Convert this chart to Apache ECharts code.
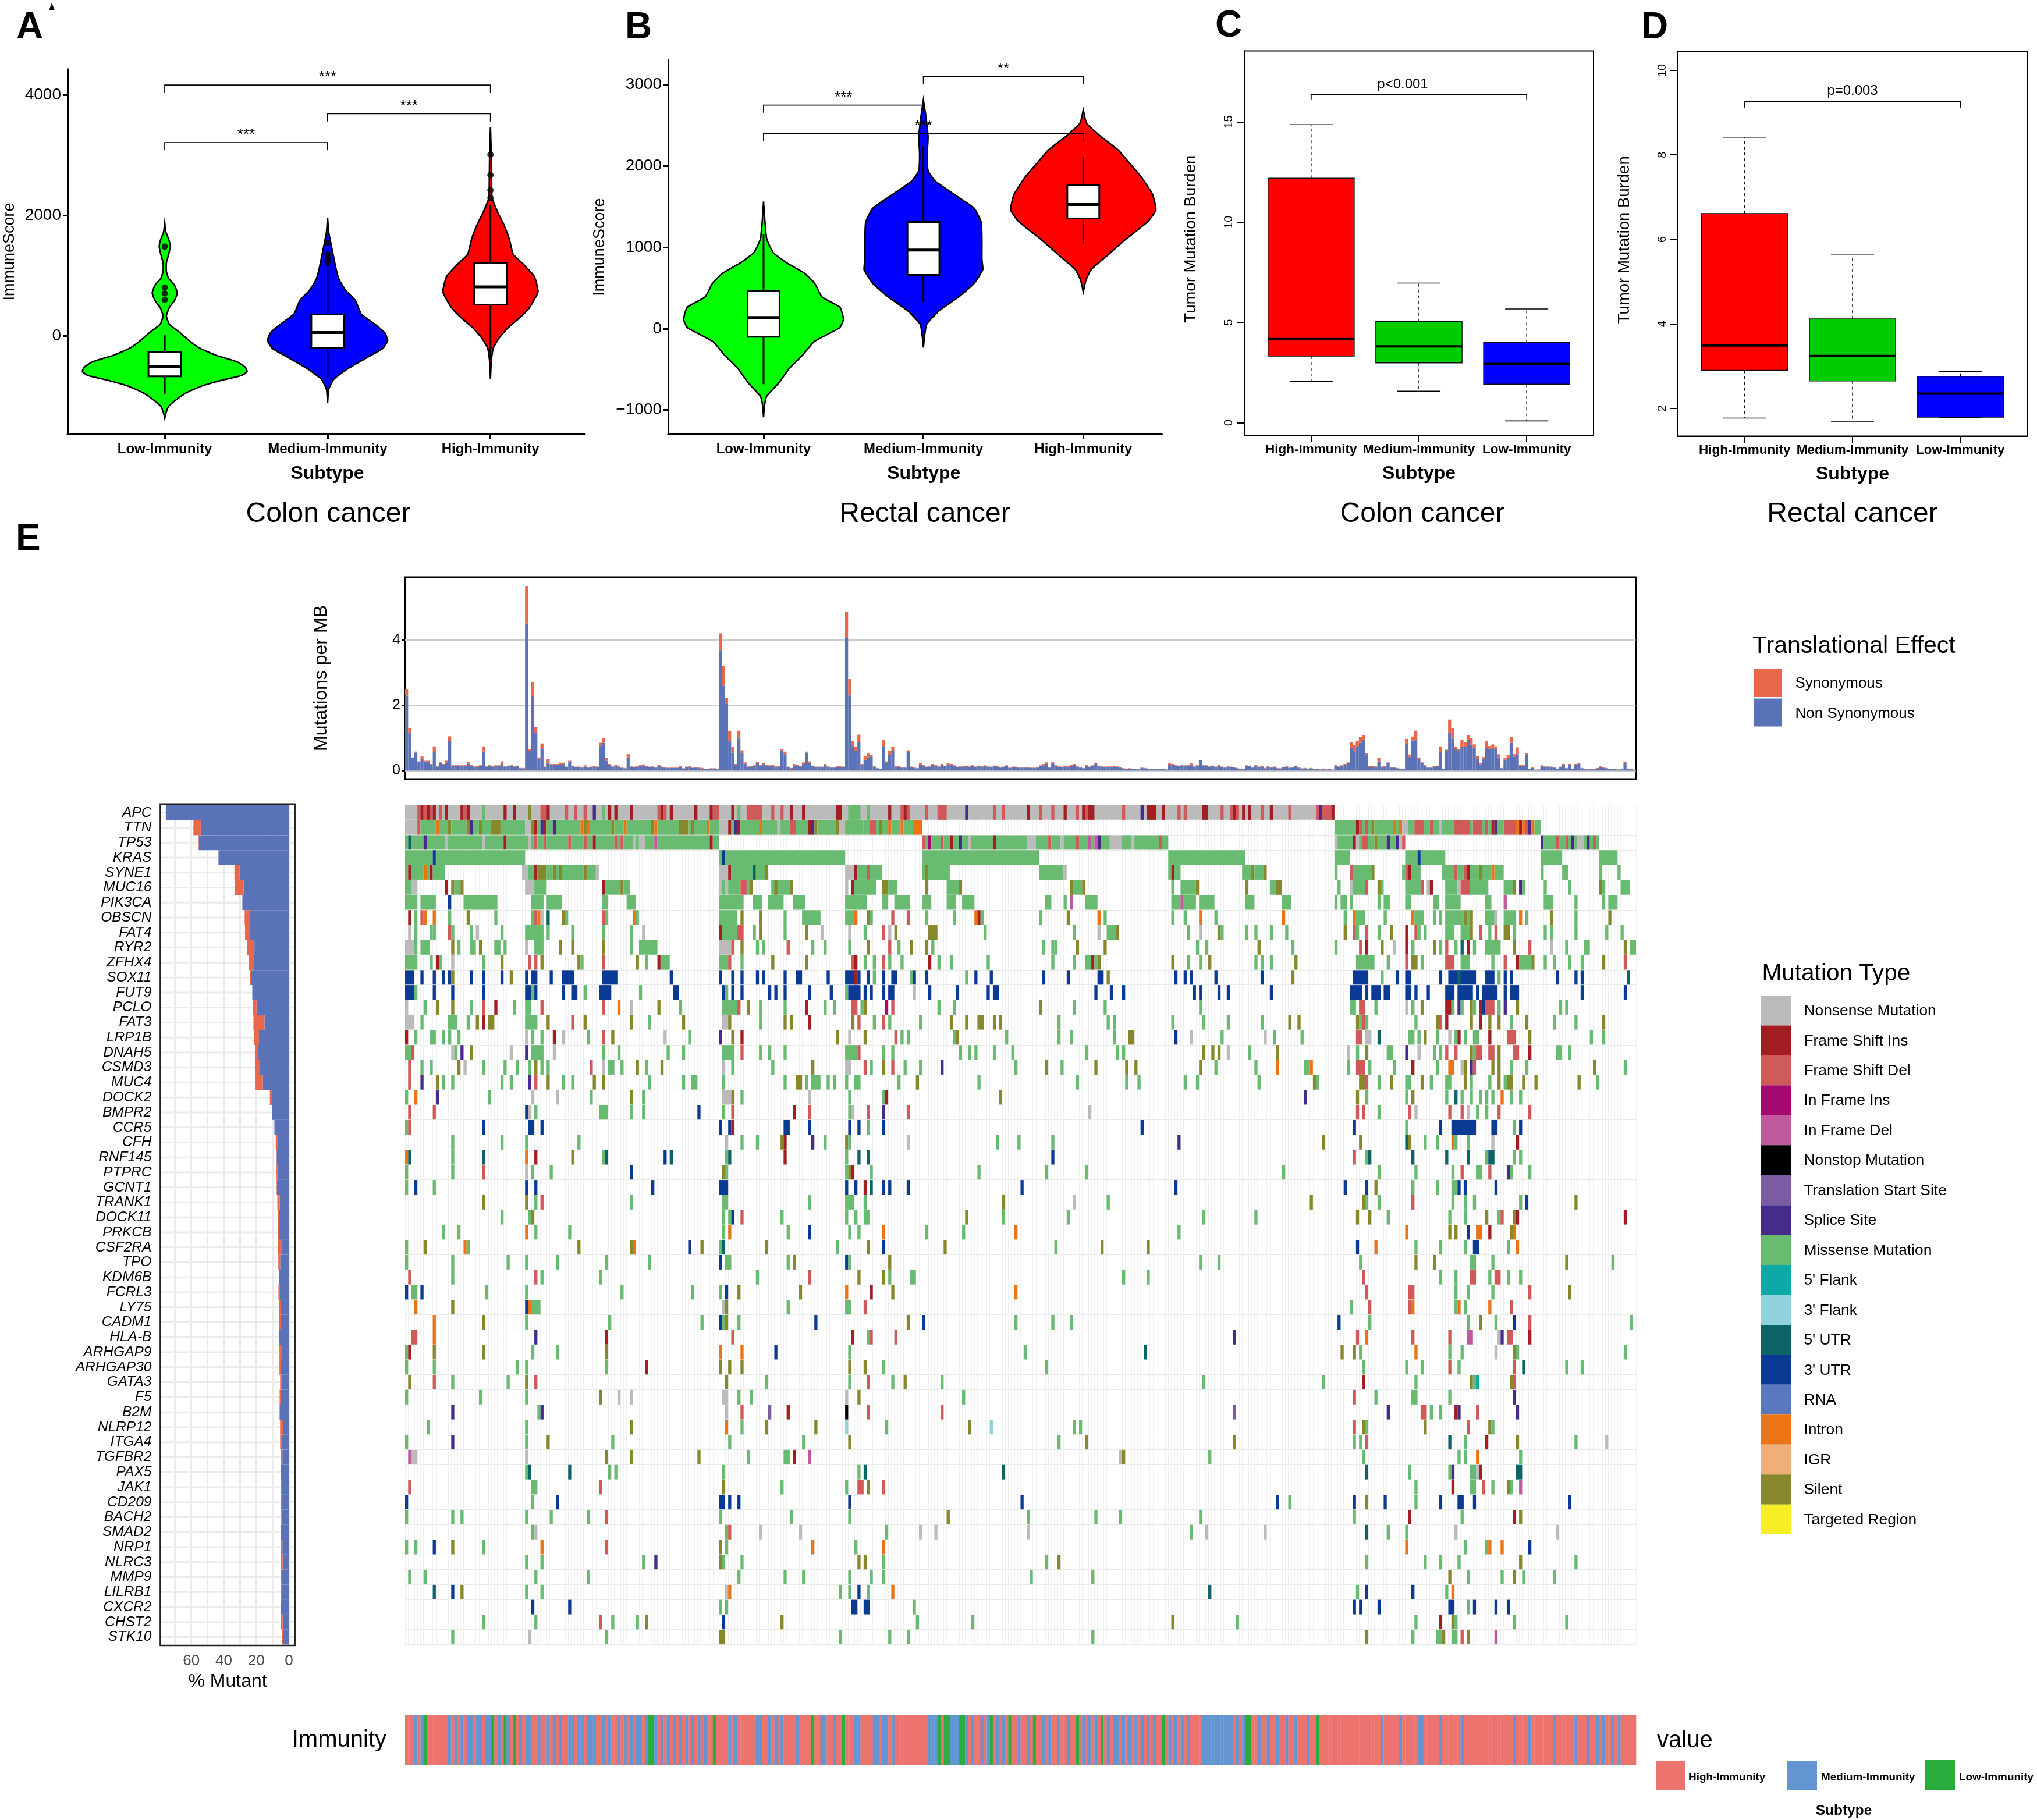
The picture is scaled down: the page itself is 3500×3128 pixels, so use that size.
<!DOCTYPE html>
<html><head><meta charset="utf-8"><style>html,body{margin:0;background:#fff}#c{width:3500px;height:3128px}</style>
<script src="https://cdn.jsdelivr.net/npm/echarts@6/dist/echarts.min.js"></script></head>
<body><div id="c"></div><script>
const FONT='"Liberation Sans",Arial,sans-serif';
// ---------- panels A / B : violins
const violinCats=['Low-Immunity','Medium-Immunity','High-Immunity'];
const violinColors=['#00FF00','#0000FF','#FF0000'];
const colonViolinValue=[
 [1881,1722,1609,1484,1354,1212,1071,957,844,714,589,476,334,193,51,-91,-204,-317,-431,-516,-589,-657,-742,-827,-941,-1054,-1167,-1280,-1365],
 [1960,1722,1552,1326,1099,929,759,589,363,193,51,-79,-204,-374,-544,-714,-884,-1110],
 [3467,3025,2629,2289,2062,1836,1609,1354,1184,986,731,476,306,136,-34,-204,-431,-714]];
const colonViolinHalf=[
 [0,.007,.024,.034,.024,.01,.01,.024,.06,.077,.06,.029,.01,.029,.096,.157,.217,.313,.446,.494,.506,.47,.337,.229,.133,.072,.024,.007,0],
 [0,.007,.019,.036,.053,.072,.111,.171,.207,.292,.352,.369,.34,.231,.123,.039,.007,0],
 [0,.005,.007,.01,.043,.084,.116,.14,.205,.27,.292,.241,.181,.108,.053,.017,.005,0]];
const colonBoxes=[[-969,-669,-504,-261,23],[-686,-198,57,357,1354],[-400,521,816,1212,2176]];
const colonOutliers=[[1,1484],[1,805],[1,708],[1,600],[2,1541],[2,1354],[2,1297],[2,1229],[3,3008],[3,2669],[3,2419],[3,2289]];
const colonBrackets=[[1,3,4164,4034,'***'],[2,3,3688,3558,'***'],[1,2,3207,3082,'***']];
const rectalViolinValue=[
 [1565,1355,1103,935,809,683,557,389,263,116,11,-158,-326,-494,-662,-830,-956,-1090],
 [2813,2616,2363,2153,1943,1817,1649,1481,1313,1103,851,725,557,389,221,53,-95,-233],
 [2691,2531,2363,2195,2027,1859,1649,1460,1313,1103,893,725,599,452]];
const rectalViolinHalf=[
 [0,.007,.02,.061,.146,.256,.32,.366,.478,.5,.476,.317,.244,.159,.098,.02,.005,0],
 [0,.015,.029,.024,.029,.073,.195,.317,.361,.366,.366,.371,.317,.22,.098,.02,.007,0],
 [0,.02,.11,.22,.293,.366,.434,.454,.402,.268,.146,.049,.017,0]];
const rectalBoxes=[[-683,-99,137,460,1166],[326,662,968,1313,2247],[1036,1355,1527,1763,2111]];
const rectalBrackets=[[2,3,3103,3010,'**'],[1,2,2750,2657,'***'],[1,3,2397,2304,'***']];
// ---------- panels C / D : TMB boxes
const tmbCats=['High-Immunity','Medium-Immunity','Low-Immunity'];
const tmbColors=['#FF0000','#00CD00','#0000FF'];
const colonTmb=[[2.06,3.32,4.17,12.19,14.86],[1.57,2.98,3.81,5.04,6.96],[0.09,1.92,2.93,4.0,5.67]];
const rectalTmb=[[1.77,2.90,3.49,6.61,8.42],[1.68,2.65,3.24,4.12,5.63],[1.79,1.79,2.35,2.76,2.87]];
const colonTmbBracket=[[1,3,16.35,16.09,'p<0.001']];
const rectalTmbBracket=[[1,3,9.26,9.12,'p=0.003']];
// ---------- panel E
const genes=['APC','TTN','TP53','KRAS','SYNE1','MUC16','PIK3CA','OBSCN','FAT4','RYR2','ZFHX4','SOX11','FUT9','PCLO','FAT3','LRP1B','DNAH5','CSMD3','MUC4','DOCK2','BMPR2','CCR5','CFH','RNF145','PTPRC','GCNT1','TRANK1','DOCK11','PRKCB','CSF2RA','TPO','KDM6B','FCRL3','LY75','CADM1','HLA-B','ARHGAP9','ARHGAP30','GATA3','F5','B2M','NLRP12','ITGA4','TGFBR2','PAX5','JAK1','CD209','BACH2','SMAD2','NRP1','NLRC3','MMP9','LILRB1','CXCR2','CHST2','STK10'];
const pctTotal=[75.7,58.7,55.7,43.3,33.5,33.1,28.6,27.2,27,25.6,24.8,24,22.5,22.2,21.8,21.4,20.9,20.9,20.5,11.7,10.3,8.9,8.1,7.6,7.6,7.6,7.1,6.9,6.9,6.8,6.5,6.2,6.4,6.2,6.2,5.9,5.8,5.8,5.4,5.7,5.7,5.4,5.4,5.1,5.1,5.1,5,5,5,5,4.8,4.8,4.8,4.8,4.8,4.4];
const pctNonSyn=[75.5,54.2,55.4,43.3,30.4,27.9,28.6,23.8,23.8,21.2,21.5,23.1,22.5,19.9,15,18.4,19.1,17.7,16,10.5,10.3,8.9,6.8,7.5,7.2,7.4,5.7,6.1,6.1,4.7,5.4,6.2,5.5,5.1,5.1,5.9,4.2,5,4.1,4.8,5.7,3.7,4.1,4,5.1,4.2,4.7,4.5,5,4,3.8,4.2,4.7,4.8,3.8,3.4];
const pctTicks=[0,20,40,60];
const pctGrid=[0,10,20,30,40,50,60,70];
const tmbTotalHundredths=[
250,130,40,58,28,43,30,30,20,74,15,25,20,30,105,16,18,18,16,18,27,17,14,13,18,74,14,18,13,16,
16,28,14,15,18,14,15,8,8,563,65,270,133,40,83,12,35,20,20,20,24,24,12,30,15,12,12,10,16,10,
12,14,12,85,100,38,20,14,18,15,9,8,50,14,12,14,17,19,14,12,14,11,18,12,10,9,9,9,9,14,
7,12,14,9,10,10,8,5,5,7,7,6,420,320,222,122,73,20,122,62,25,14,13,16,27,18,24,18,16,18,
15,13,65,58,12,8,20,18,13,25,58,28,15,12,12,12,20,14,10,10,14,14,12,485,280,90,72,110,20,43,
52,47,15,8,5,93,28,60,72,15,13,11,10,62,12,10,8,22,18,12,15,20,18,14,20,15,22,20,16,12,
14,13,15,14,16,12,15,13,16,14,12,15,13,10,12,16,9,12,12,11,11,11,10,9,9,10,16,20,25,10,
25,18,14,12,13,13,17,20,14,11,8,17,12,16,24,15,14,12,14,14,13,14,10,7,6,7,6,5,5,9,
8,6,5,6,5,5,6,4,22,20,17,15,18,16,18,22,14,16,32,18,16,14,15,12,17,12,10,14,12,11,
8,5,5,16,15,10,17,12,13,8,14,10,12,8,7,11,14,9,10,15,10,7,8,6,8,5,6,4,6,4,
5,3,18,14,16,20,25,86,79,90,103,109,54,13,13,14,39,12,13,25,10,10,8,6,6,97,49,104,122,40,
25,17,10,10,13,15,74,5,64,156,130,73,65,95,86,109,100,80,45,22,41,91,75,80,74,50,8,38,47,103,
50,71,18,18,53,5,10,3,4,16,14,14,12,10,6,12,20,8,20,6,20,22,8,5,4,5,5,8,14,10,
8,6,5,5,4,5,26,6,5,3];
const tmbNonSynHundredths=[
230,115,38,55,26,36,28,27,18,56,12,22,18,25,90,14,16,15,14,15,21,15,12,10,15,58,12,16,11,14,
13,20,12,13,15,12,13,7,7,450,60,228,115,35,65,10,24,17,18,18,18,20,10,28,13,10,10,9,12,9,
10,11,11,75,85,30,17,12,15,12,8,7,40,12,10,11,15,16,11,10,12,9,14,10,9,8,8,8,8,11,
6,10,11,8,9,8,6,4,4,6,6,5,367,260,205,90,55,17,98,52,20,12,11,13,22,15,20,15,14,15,
12,11,60,50,10,6,16,15,11,20,55,22,13,10,10,10,17,12,9,9,11,12,10,405,230,75,60,87,17,33,
40,43,12,7,4,75,22,47,60,12,11,9,9,57,10,8,7,18,15,10,12,17,15,12,17,13,18,17,14,10,
12,11,13,12,14,10,13,11,14,12,10,13,11,9,10,14,8,10,10,9,9,9,9,8,8,9,13,16,20,9,
23,15,12,10,11,11,14,17,12,9,7,15,10,14,20,13,12,10,12,12,11,12,9,6,5,6,5,4,4,8,
7,5,4,5,4,4,5,3,18,18,15,13,16,14,15,19,12,14,31,16,14,12,13,10,15,10,9,12,10,9,
7,4,4,14,13,9,15,10,11,7,12,9,10,7,6,10,12,8,9,13,9,6,7,5,7,4,5,3,5,3,
4,2,16,12,14,18,22,70,56,75,85,95,50,11,11,12,28,10,11,22,9,9,7,5,5,82,42,92,93,36,
22,15,9,9,11,13,56,4,60,115,97,65,60,73,73,95,80,70,35,19,35,70,65,68,65,40,7,33,38,85,
42,50,15,15,47,4,8,2,3,14,12,12,10,9,5,10,17,7,18,5,18,20,7,4,3,4,4,6,12,8,
7,5,4,4,3,4,22,5,4,2];
const mutTypes=['Nonsense Mutation','Frame Shift Ins','Frame Shift Del','In Frame Ins','In Frame Del','Nonstop Mutation','Translation Start Site','Splice Site','Missense Mutation',"5' Flank","3' Flank","5' UTR","3' UTR",'RNA','Intron','IGR','Silent','Targeted Region'];
const mutColors=['#BBBBBB','#A31E23','#CF5A59','#A3096F','#C0589C','#000000','#7B5CA3','#472B8B','#6ABB72','#0EA8A6','#8FD1DC','#0D6466','#0B3A94','#5A78BE','#EB7416','#F0AE78','#87872B','#F7EE25'];
const mutCodes='nidpqxtsmfgurboeky';
const geneCells=[
/*APC*/"n0-301 d4 i5 d6 i7 d8 i9 d11 i13 i18 d19 i20 m25 i32 i35 k40 d44-45 i46 d52 d55 d58 s61 m64 i66 i68 i73 d82 i83 d84 i86 i94 i99 d100 d101 i106 m108 d111-115 d119 d122 i125 i129 i140-141 m144-147 m150 i157 d161 i162 d163 d169 d173-175 s182 d191 d194 i202 d206 d210 i214 d218 i220 d221 i222-223 d233 s239 i241-243 i246 d251 d253 i259-260 d265 d268 i269 d270 i272 i274 d278 i281 d287 d296 s297 d298-300 i301",
/*TTN*/"n0-3 d4 m5-9 o10 m11-13 k14 m15-19 k20 s21 m22-23 k24 m25-27 k28-30 m31-38 n39-40 k41 i42 m43 s44 i45 m46-47 s48 m49-56 o57 k58 o59 m60-66 k67 m68-70 o71 m72-79 k80 o81 m82-88 k89-91 m92 k93 m94-97 o98 m99-101 n102-104 i105 m106 s107 i108 m109-114 o115 m116-120 n121 m122-124 d125-126 m127-130 i131 s132 k133 m134-139 k140 n141-142 m143-148 m149-150 d151-152 m153 k154 m155-156 o157 m158-160 o161 m162-164 o165-167 m302-308 i309 d310 m311 d312 m313 k314 m315-320 o321 m322 o323 n324-325 m326-327 d328-330 m331-332 d333 m334-335 n336 m337-340 d341-345 m346 d347-349 m350 d351 m352 i353 s354 m355-356 d357-360 o361 i362 o363 d364 s365 o366 m367-368",
/*TP53*/"m0 u1 m2-5 s6 m7-12 n13 m14-24 n25 m26-31 i32 m33-39 n40 m41 d42 m43-44 d45 m46-52 d53 m54-57 d58 m59-60 i61 m62-67 d68 m69 d70 m71-73 n74 m75 n76-77 m78-80 q81 m82-98 i99 m100-101 d168 m169 p170 m171-173 d174 m175-176 i177 m178-179 s180 m181-182 n183 m184-190 i191 m192-201 n202-204 m205-208 d209 m210-212 n213 m214-217 d218 m219-221 q222 m223 q224 s225 m226-228 n229-232 m233-235 n236 m237-244 d245 m246-247 n302 m303-307 i308 n309 m310 d311-312 m313-314 k315 m316-318 s319 m320-321 s322 n323 d324 s369 m370-373 d374 m375-376 d377 m378 s379 m380 n381-382 m383 s384 m385 d386 m387",
/*KRAS*/"m0-8 r9 m10-38 m102 r103 m104-142 m168-205 m248-272 m302-306 m325-328 r329 m330-337 m369-375 m388-393",
/*SYNE1*/"m0 i1 m2-5 o6 m7 i8 m9-12 n38-39 m40-41 i42 k43-45 m46-47 k48 m49 k50 m51-57 k58 m59-61 n62 n102-104 i105 m106-112 u113 m114-116 k117 n143-145 i146 m147-149 d150 m151-154 m168 k169 m170-176 m206-213 n214 m248 i249 m250-251 m272-274 k275 m276-278 k279 m302 d307 m308-313 k314 m324 d325 i326 m327-329 m337-340 d341 m342-343 d344 i345 m346-348 k349 m350-352 o353 m354-356 m369 m376-377 m388 m394",
/*MUC16*/"m0-1 n2-3 i13 k15 m16-17 k18 n39-41 m42-45 i64 m65-69 k70 m71-72 n102 m103 n104 m105-108 d109-110 m111 k112 m119-124 k120 k125 n143 i145 m146-152 k155 k156 m157-159 k169 n178 m176-179 k180 m216-219 k216 k220 m249 m252-256 k257 k273 m281-284 k283-284 m303 n307 m308-311 d312 k316 m317 m325-329 d330 n332 i333 m338-341 n342 d343-345 m346-351 m357-359 k360 s362 m363 m370 m378 k388 m389 m395-397",
/*PIK3CA*/"m0-3 m5-9 r14 m19-29 m41-44 m46-50 m64-65 m72-74 m102-109 m113-115 m118-122 m126-129 m143-149 m155-156 m159-163 m168-170 m176-178 m181-184 m208-209 m214 q216 m221-224 m249-251 q252 m253-256 m258-262 m273-275 m285-287 m302 m304-305 m307 m316 m318-319 m325-326 m334-335 m338-342 m351-352 q357 m370-372 m380 m389 m391-393",
/*OBSCN*/"i1 m3 d5 o6 o9 m14 k20 m29 m41 d42 o43 n44 u46 k51 m52 d64 m65 o74 m75 m102-107 k109 k115 m123 m129-134 m143-145 o146 k150 m151 d158 d163 m169 m178 o185 i186 m187 m206 k215 o225 m227 m249 m253 o258 m263 o285 m305 o308 m309-311 m318 o327 m328-330 m334 m336 m338-343 k344 m345 k346 m351-353 n354 m357-360 o362 m364 k372 m380 k391",
/*FAT4*/"n1 m3 m8 m9 d14 m15 m21 n23 m31 m39-44 m46 m54 m64 m73 n77 i102 m103-107 d108-109 m113 k115 m123 k130 n135 n144 m149 d155 n157 k159 k170-172 m188 m217 n225 m228-230 k231 m254 n258 k264 m265 m273 m276 m281 m286 k305 d308 m309 d312 m316 k320 i325 d328 m329 m331 m338-340 m343-345 k346 d349 m352 d354 k357-358 m360 m370 m372 m380 m390 m395",
/*RYR2*/"n0-2 m3 m5-7 k15 m17 m21-22 k24 m29-30 m32 n39 m42-44 k50 k54 k64 m73 m76-81 n102-105 d106 k109 m114 m116 d124 m132 m136 m144 k150 d157 m160 k164 k169 m171 m207 m211 k218 m210 k227 m257 m260 k277 m288 m302 d310 i312 k317 n321 i325 m327 k334 m336 d338 m341 u343 i345 m347 m351-355 k360 d365 n372 m377 m383-384 k396 m398-399",
/*ZFHX4*/"m0-3 m8 i10 m11 n15 m25 k31 d40 d42 k44 k56 m57 d64 k75 m78 i82 m83-85 m102-104 d105 m109 k119 k130 d145 i146 m149 m152 d155 m157 m161 i170 m173 m177 m189 m210 m217 m221-222 i223 m224 k225 k249 m254 m258 k261 m276 m278 m281 k289 m309-310 m311-314 m319 d325 k327-328 m330 d338-340 m343-345 m353 d357 i361 m362-365 k366 m370 m373 m378 m382 k389 d396",
/*SOX11*/"r0-2 r5 r9 r12 r14 k15 r21 r25 r31 k34 r39 r41-42 r47 r51-54 r64-68 r86 r102 r106 r109 r114 r116 r123 r127-128 r137 r143-146 i146 r147 r150 m152 r155 r158-159 m164 r165 r169 m182 r185 r190 r207 r215 r225-226 k228 r250 r253 r255 r263 r278 k288 r308-312 m317 r322 r325-326 r336 r339-347 u342 r351-353 m355 r357 r359 r374 r380 r382 u397",
/*FUT9*/"r0-2 m3 r9 r15 r25 r39-40 m41 r42 r51 r54-55 m58 r63-66 m76 r87-88 r103 m104 r106 r109 r118 r120 r123 r131 r138 m143 r144-147 r149 r151 r155 r157-158 n165 r170 r179 r189 r191-192 r224 r229 r233 r256 r258 r264 r267 r281 r307-310 r312 r314-316 r318-319 r325-326 r328 r332 r338-340 r342-346 r348 r350-354 r357 r359-361 r382 r396",
/*PCLO*/"n0 m6 k10 k15 m21 d25 i29 m35 m39-40 d44 d64 o69 n73 k82 m89 m103-107 d108 k111 m115 m123 i130 m136 m139 d145-146 m148 k149 p156 d158 m173 m178 k206 m217 m227 m258 m307-308 d310-311 m315 n325 m327 k330 i338-339 m340 s342 m343 k346 m347 i349 r350 d351-353 m355 s357 k361 m375 m377",
/*FAT3*/"n0-2 m5 m14-16 m20 k23 i25 k27-28 m39-42 k46 d54 k58 k73 m79 k90 n103-104 k105 m115 k123 k125 i131 k145 d147 m152 d155 m157 m167 k177 k182 k186-187 k191 k193 m212 m228 m230 m249 m259 m267 m278 k287 k290 k309 m310-312 d311 m328 k335 d336 i338 k346 i349 k352 k355 m359 k364 m373 m380 k389",
/*LRP1B*/"i0 m3 m8-9 m12 m14 m17 n39 m41 m44 i48 n51 m59 d64 k67 n84 m92 s102 k106 i109 k140 n144 k149 d159 m161 m163 m178 k179 m195 m212 m216 m230 k235-236 r250 n255 m265 n279 m282 m291 d309-310 n312-313 u316 m326-327 m329 k331 m335 n339 m341 i342 m344 m347-348 i352 d358-360 k365 m385 m389",
/*DNAH5*/"m0-1 d2 n15 m16 s18 k21 n34 s39 m41-44 n48 m64 m69 m85 m90 m103-106 d109 m115 m118 m123 m143-146 d147 m155 m158 m180 m183 m185 m191 m197 m221 m231 m233 k259 k262 k264 n267 m274 k283 n306 m309 k312 m319-320 s325 n329 m334 m336 d338 d341 k346 m347 d348-349 d352-353 k355 d360-361 i365 m374-375 m378",
/*CSMD3*/"d1 m5 m8 k17 n19 m25 m32 m36 m40 k42 m44 m46 d60 n64 m66-67 m70 k75 m78 k83 n103 m106 m119 k132 n143-144 d149 m151 k155 d158 m162 m167 s174 m198 k208 m213 k224 k234 k237 k258 m263 m276 o283 m292-293 o294 m306 d309-311 m313 m321 i327 m335 o339-340 n343 k344 s346 d347 k353 k355 m359 m364 k386 m396",
/*MUC4*/"d1 s5 k10 m12 m15 m31 m34 s40 d42 k46 m51 m54 k61 k64 m79 m90 m93-94 m103 m123 k127-128 m130 m132-134 m137 m139 m143 m146-147 m160 k166 m186 m218 m234 m238 m253 m257 m277 k295 m296 k310-311 d312 m316 k320 m325-326 k330 m333 m338-339 k344 m346 m352 k355 m357 k358-359 k363 k367 k381 m387",
/*DOCK2*/"m0 o3 s10 m27 n41 n49 m60 k73 m77 n103-105 k106 m109 n131 m144 m155 i156 k193 s292 k309 m312 m325 k327 m338 u341 m343 m346 m349 m351 m353 o356 m359 m362",
/*BMPR2*/"d1 d9 r39 n40 m42 m63-65 m73 m77 r95 m103 d106 i126 d131 m144 n145 d150 s155 d163 n222 d309 d311 m316 d326 n328 d339 d343 n345 m348 m351 d355 d365",
/*CCR5*/"m0 d1 r25 r40-41 r44 r102 r105 i106 r123-124 r131 r144 r147 m150 r155 r239 r308 m325 r336 r340-347 r353-354 m360 r362",
/*CFH*/"m15 m31 m39 m56 n104 m109 m114 k122 i123 s132 m136 k143 m144 n163 m192 m199 m210 s251 k298 k310 u325 k326 m331 m335 o340 m341 m345 n353 i361",
/*RNF145*/"o0 u1 m15 u25 o39 i42 k54 m64 u65 r84 u86 m104 u105 i123 m143 u147 u150 r210 d308 m312 u313 u327 u338 u345 m351 u352-353 m360 m362",
/*PTPRC*/"m0 m15 d25 n39 m41 m47 r73 k103 m104 m143 k144 i145 m151 m186 m208 m221 m285 m316 m328 m340 d343 m348-349 d352 s358 m359 m365",
/*GCNT1*/"m0 r3 m9 r39 r42 r80 r102-104 r143 r146 i149 u151 r155 r157 r163 r200 r250 r305 r312 k315 m327 m335 m340-341 r342 r344 r354",
/*TRANK1*/"k25 k39 m42 d44 m73 m103-104 m131 m143-145 m149 k194 n217 m228 k294 k311 m312 m316 d327 m340 m344 m347 m362 r364 k380",
/*DOCK11*/"m31 m40 k41 m103 m105 r106 d109 m122 m143 m146 m149-150 k182 m194 m215 m259 m276 k309 k313 m319 m339 m344 k351 m355 d356 k360 i361 i396",
/*PRKCB*/"m12 m17 o39 m42 m53 m103 o105 m124 r131 m144 m147 o155 m169 m181 o198 m251 o325 k339 k341 r345 o348-349 i352 k359 o360",
/*CSF2RA*/"m0 k6 o19 m20 k56 k73 o74 r92 k96 m102 u103 k117 m140 k150 r155 k175 m211 k226 k241 r309 o315 m328 m336 m344 r347-348 m358 o361",
/*TPO*/"m0 m15 m33 m39 m49 m65 m79 r102 m104-105 m124 k126 r143 m144 k157 m258 m264 m310 k328 k334 m346-347 m353 k377 m392",
/*KDM6B*/"d1 m15 d42 m44 m63 m114 d131 k147 k155 m157 m164-165 m233 m241 d311 m336 m341 d346-347 m352 d354-355 m358 m362",
/*FCRL3*/"r0 m2 m3 r5 m26 m39 m70 m93 m102 r104 k108 k128 o143 i151 k158 o198 d312 d326-327 m341 m345 m353 d365 k378",
/*LY75*/"o3 k15 r39 o40 m41-43 n103 k104 m124 m143-144 d149 m307 d313 d326 o327 m341 o342 m344 o352 d359",
/*CADM1*/"o9 k25 m39 m66 m96 r102 m103 k104 m108 r133 k163 r168 m198 m210 m216 r303 m313 m345 k349 m354 r360 d365 m398",
/*HLA-B*/"d2-3 o9 s42 i65 d106 i145 m150 d151 d159 s269 d309 o312 d327 d339 q345-346 n355 s356 d358-359 i365",
/*ARHGAP9*/"m0 i1 k9 k25 m41 m49 k65 o102 o109 r120 m144 m201 u240 k304 k308 m310 o328 m339 m343 n354 k360 m361 m396",
/*ARHGAP30*/"m0 m9 m36 m39 m65 i78 k102 k105 k109 k144 k149 m155 m208 m311 m325 m330 d339 m342 d360 u363 m377 m382",
/*GATA3*/"k1 d9 m15 m33 k39 d42 k104 m117 m144 d150 m158 k162 m174 m259 m298 i311 m328 k346 m347 f348 k359 d360",
/*F5*/"m0 m24 m39 k63 n69 n73 n103-104 m108 m112 n143 k147 m181 d308 m315 m327-328 m339 s360",
/*B2M*/"s15 m43 s44 n104 d109 t118 i124 x143 d150 d174 t269 s319 d330-331 m333 m336 i341 s342 d348 s361",
/*NLRP12*/"m7 m39 k73 o104 m109 k117 k133 g143 m156 k183 g190 m217 m219 d308 k311 m312 k331 d345 k352 m353",
/*ITGA4*/"m0 s15 m39 k46 m67 m105 m129 k144 m212 k221 k269 m308 m310 d312 u339 m344 i351 k361 m380 n390",
/*TGFBR2*/"q1 n2-3 n39 k65 k73 k95 m111 m123-124 i126 q131 n232 k233 m261 m311 m342 m344 o348 m362",
/*PAX5*/"m39 u40 u53 m66 m68 m103 m147 u149 u194 u312 m326 m339 s340 m346-347 n348 i349 u361-362",
/*JAK1*/"d1 m41-42 d63 k103 m122 m143 d147-148 k150 d155 m328 i340 m346-347 d350 m353 k358 m359 q362",
/*CD209*/"r0 m41 r49 r102-103 r105 r108 r144 r200 r283 m287 r308 k312 r318 m328 r336 r342-343 r347 r378",
/*BACH2*/"m0 m15 m18 m39 m47 m59 d65 m102 m125 m144 k176 m202 m224 m232 m258 m308 i326 m343 i360 k362",
/*SMAD2*/"m41 n42 m104 d105 n115 n128 m156 n167 n172 n202 m255 n260 n279 u312 m319 m325 n341 n374",
/*NRP1*/"m0 m3 r9 k15 m25 o44 d65 k102 m104 o132 m146 o155 o325 m344 m351 o352 o356 r365",
/*NLRC3*/"m39 m44 m77 s81 k102 m103 m109 k147 k149 m155 m208 k212 m312 m331 m336 m342 k362 m380",
/*MMP9*/"m1 m6 m42 m59 m108 m123 m129 m144 m151 m155 m203 m223 k339 m345 m356 k360 m363 m373",
/*LILRB1*/"u9 r15 k18 m39 m44 n104 o105 m141 m144 r147 m150 o158 u261 m309 r312 r327 m338 o340",
/*CXCR2*/"r41 r53 m102 m104 r145-146 r149-150 m165 r308 r310 r316 r339-340 m345 r347 r354 r358",
/*CHST2*/"m25 m42 d63 m67 m75 k78 r103 k122 m166 m184 k249 m270 m328 i336 k340 m341 m360 m377",
/*STK10*/"m15 n40 m65 k102-103 m141 m157 m163 m223 k312 m327 m335-336 k337 m340-341 d343 k345 q354"];
const immunityMedium=[3,5,14,16,18,20,21,23,24,26,27,30,33,37,39,40,43,46,48,50,53,54,56,57,59,60,61,64,66,69,71,73,75,76,78,81,83,85,87,89,91,93,95,97,105,107,114,115,118,120,122,127,135,136,139,146,147,152,153,155,156,158,170,171,172,177,178,179,182,184,187,189,192,194,199,202,207,209,212,215,220,222,224,228,230,231,233,235,237,239,241,243,248,250,252,254,259,260,261,262,263,264,265,266,267,268,270,272,277,280,283,286,289,293,317,323,329,330,336,343,360,365,373,380,384,387,389,392,394];
const immunityLow=[6,28,32,35,79,80,100,132,142,173,175,176,180,181,190,196,204,218,226,246,273,274,296];
const immunityLabels=['High-Immunity','Medium-Immunity','Low-Immunity'];
const immunityColors=['#ED746E','#6495D3','#29AE3E'];
const SYN='#E9674A',NON='#5A72B7';
const N=400;

// ---------- renderers
function parseCells(){const out=[];geneCells.forEach((row,r)=>{for(const m of row.matchAll(/([a-z])(\d+)(?:-(\d+))?/g)){const s=+m[2],e=m[3]?+m[3]:s;out.push([s,e+1,r,mutCodes.indexOf(m[1])]);}});return out;}
function violinSeries(gi,vals,halfs,boxes,outliers,brackets){
 return [{type:'custom',xAxisIndex:gi,yAxisIndex:gi,z:3,silent:true,data:violinCats.map((c,i)=>[i+1,boxes[i][2]]),renderItem(p,api){
   const i=p.dataIndex,c=i+1,v=vals[i],h=halfs[i];
   const left=v.map((y,k)=>api.coord([c-h[k],y])),right=v.map((y,k)=>api.coord([c+h[k],y])).reverse();
   const b=boxes[i];const P=(x,y)=>api.coord([x,y]);
   const line=(a,b2,w)=>({type:'line',shape:{x1:a[0],y1:a[1],x2:b2[0],y2:b2[1]},style:{stroke:'#000',lineWidth:w}});
   const tl=P(c-.1,b[3]),br=P(c+.1,b[1]);
   return {type:'group',children:[
    {type:'polygon',shape:{points:left.concat(right),smooth:.15},style:{fill:violinColors[i],stroke:'#000',lineWidth:2.6}},
    line(P(c,b[0]),P(c,b[4]),3),
    {type:'rect',shape:{x:tl[0],y:tl[1],width:br[0]-tl[0],height:br[1]-tl[1]},style:{fill:'#fff',stroke:'#000',lineWidth:3}},
    line(P(c-.1,b[2]),P(c+.1,b[2]),5)]};
 }},
 {type:'scatter',xAxisIndex:gi,yAxisIndex:gi,z:4,silent:true,symbolSize:11,itemStyle:{color:'#000'},data:outliers},
 bracketSeries(gi,brackets,13,26,0)];
}
function bracketSeries(gi,brackets,off,size,dx){
 return {type:'custom',xAxisIndex:gi,yAxisIndex:gi,z:5,silent:true,data:brackets.map(b=>[b[0],b[2]]),renderItem(p,api){
   const b=brackets[p.dataIndex];const a=api.coord([b[0],b[3]]),t1=api.coord([b[0],b[2]]),t2=api.coord([b[1],b[2]]),d=api.coord([b[1],b[3]]);
   return {type:'group',children:[
    {type:'polyline',shape:{points:[a,t1,t2,d]},style:{stroke:'#000',fill:null,lineWidth:1.8}},
    {type:'text',style:{x:(t1[0]+t2[0])/2+dx,y:t1[1]-off,text:b[4],font:size+'px '+FONT,fill:'#000',align:'center',verticalAlign:'middle'}}]};
 }};
}
function tmbSeries(gi,data,bracket,dx){
 return [{type:'custom',xAxisIndex:gi,yAxisIndex:gi,z:3,silent:true,data:data.map((d,i)=>[i+1,d[2]]),renderItem(p,api){
   const i=p.dataIndex,c=i+1,b=data[i];const P=(x,y)=>api.coord([x,y]);
   const ln=(a,e,w,dash)=>({type:'line',shape:{x1:a[0],y1:a[1],x2:e[0],y2:e[1]},style:{stroke:'#000',lineWidth:w,lineDash:dash||null}});
   const tl=P(c-.4,b[3]),br=P(c+.4,b[1]);
   return {type:'group',children:[
    ln(P(c,b[3]),P(c,b[4]),1.5,[5,5]),ln(P(c,b[1]),P(c,b[0]),1.5,[5,5]),
    ln(P(c-.2,b[4]),P(c+.2,b[4]),1.6),ln(P(c-.2,b[0]),P(c+.2,b[0]),1.6),
    {type:'rect',shape:{x:tl[0],y:tl[1],width:br[0]-tl[0],height:br[1]-tl[1]},style:{fill:tmbColors[i],stroke:'#111',lineWidth:1.5}},
    ln(P(c-.4,b[2]),P(c+.4,b[2]),4)]};
 }},bracketSeries(gi,bracket,18,24,dx)];
}
const cellData=parseCells();
function cellSeries(){return {type:'custom',xAxisIndex:6,yAxisIndex:6,z:3,silent:true,progressive:0,data:cellData,renderItem(p,api){
  const s=api.value(0),e=api.value(1),r=api.value(2),t=api.value(3);
  const a=api.coord([s,r]),b=api.coord([e,r+1]);
  return {type:'rect',shape:{x:a[0],y:a[1]+.4,width:b[0]-a[0],height:b[1]-a[1]-.8},style:{fill:mutColors[t]}};
 }};}
const immData=[];{const med=new Set(immunityMedium),low=new Set(immunityLow);for(let i=0;i<N;i++)immData.push([i,low.has(i)?2:med.has(i)?1:0]);}
function immSeries(){return {type:'custom',xAxisIndex:7,yAxisIndex:7,z:3,silent:true,progressive:0,data:immData,renderItem(p,api){
  const i=api.value(0),a=api.coord([i,0]),b=api.coord([i+1,0]),h=api.size([0,1])[1];
  return {type:'rect',shape:{x:a[0],y:a[1]-h/2,width:b[0]-a[0]+.3,height:h},style:{fill:immunityColors[api.value(1)]}};
 }};}
function geneLineSeries(){return {type:'custom',xAxisIndex:4,yAxisIndex:4,z:1,silent:true,data:genes.map(g=>[0,g]),renderItem(p,api){
  const a=api.coord([-3.7,genes[p.dataIndex]]),b=api.coord([79.07,genes[p.dataIndex]]);
  return {type:'line',shape:{x1:a[0],y1:a[1],x2:b[0],y2:b[1]},style:{stroke:'#EBEBEB',lineWidth:3}};
 }};}

// ---------- axes
const AX={lineStyle:{color:'#000',width:3}};
function pg(left,top,right,bottom,extra){return Object.assign({left,top,width:right-left,height:bottom-top,outerBoundsMode:'none'},extra||{});}
function violinAxes(grid,xMin,xMax,yMin,yMax,ticks,gap,namePad){return {x:{type:'value',gridIndex:grid,min:xMin,max:xMax,splitLine:{show:false},axisLine:Object.assign({onZero:false},AX),
   axisTick:{customValues:[1,2,3],length:8,lineStyle:{color:'#000',width:3}},
   axisLabel:{customValues:[1,2,3],formatter:v=>violinCats[v-1],fontFamily:FONT,fontWeight:'bold',fontSize:24,color:'#000',margin:14},
   name:'Subtype',nameLocation:'middle',nameGap:52,nameTextStyle:{fontFamily:FONT,fontWeight:'bold',fontSize:32,color:'#000',padding:[0,0,0,namePad]}},
  y:{type:'value',gridIndex:grid,min:yMin,max:yMax,splitLine:{show:false},axisLine:Object.assign({onZero:false},AX),
   axisTick:{customValues:ticks,length:8,lineStyle:{color:'#000',width:3}},
   axisLabel:{customValues:ticks,formatter:v=>v<0?'\u2212'+(-v):''+v,fontFamily:FONT,fontSize:28,color:'#000',margin:11},
   name:'ImmuneScore',nameLocation:'middle',nameRotate:90,nameGap:gap,nameTextStyle:{fontFamily:FONT,fontSize:27,color:'#000'}}};}
function tmbAxes(grid,yMin,yMax,ticks,gap){return {x:{type:'value',gridIndex:grid,min:.38,max:3.62,splitLine:{show:false},axisLine:{onZero:false,lineStyle:{color:'#000',width:2}},
   axisTick:{customValues:[1,2,3],length:12,lineStyle:{color:'#000',width:2}},
   axisLabel:{customValues:[1,2,3],formatter:v=>tmbCats[v-1],fontFamily:FONT,fontWeight:'bold',fontSize:22.5,color:'#000',margin:13},
   name:'Subtype',nameLocation:'middle',nameGap:50,nameTextStyle:{fontFamily:FONT,fontWeight:'bold',fontSize:32,color:'#000'}},
  y:{type:'value',gridIndex:grid,min:yMin,max:yMax,splitLine:{show:false},axisLine:{onZero:false,lineStyle:{color:'#000',width:2}},
   axisTick:{customValues:ticks,length:13,lineStyle:{color:'#000',width:2}},
   axisLabel:{customValues:ticks,rotate:90,fontFamily:FONT,fontSize:20,color:'#000',margin:17},
   name:'Tumor Mutation Burden',nameLocation:'middle',nameRotate:90,nameGap:gap,nameTextStyle:{fontFamily:FONT,fontSize:27.5,color:'#000',padding:[0,0,0,14]}}};}
const A=violinAxes(0,.403,3.58,-1631,4430,[0,2000,4000],86,4),B=violinAxes(1,.403,3.4926,-1300,3308,[-1000,0,1000,2000,3000],104,30);
const C=tmbAxes(2,-.624,18.54,[0,5,10,15],78),D=tmbAxes(3,1.344,10.44,[2,4,6,8,10],78);
const xAxes=[A.x,B.x,C.x,D.x,
 {type:'value',gridIndex:4,inverse:true,min:-3.7,max:79.07,position:'bottom',axisLine:{show:false},
  axisTick:{show:false,customValues:pctGrid},splitLine:{lineStyle:{color:'#EBEBEB',width:3}},
  axisLabel:{customValues:pctTicks,fontFamily:FONT,fontSize:26,color:'#4D4D4D',margin:15},
  name:'% Mutant',nameLocation:'middle',nameGap:48,nameTextStyle:{fontFamily:FONT,fontSize:32,color:'#000'}},
 {type:'category',gridIndex:5,data:tmbTotalHundredths.map((v,i)=>i),axisLine:{show:false},axisTick:{show:false},axisLabel:{show:false},splitLine:{show:false}},
 {type:'value',gridIndex:6,min:0,max:N,interval:1,axisLine:{show:false},axisTick:{show:false},axisLabel:{show:false},splitLine:{lineStyle:{color:'#F1F1F1',width:1}}},
 {type:'value',gridIndex:7,min:0,max:N,axisLine:{show:false},axisTick:{show:false},axisLabel:{show:false},splitLine:{show:false}}];
const yAxes=[A.y,B.y,C.y,D.y,
 {type:'category',gridIndex:4,inverse:true,data:genes,axisLine:{show:false},splitLine:{show:false},axisTick:{show:true,alignWithLabel:true,length:9,interval:0,lineStyle:{color:'#333',width:3}},
  axisLabel:{interval:0,fontFamily:FONT,fontStyle:'italic',fontSize:24.5,color:'#000',margin:15}},
 {type:'value',gridIndex:5,min:-.262,max:5.918,axisLine:{show:false},axisTick:{show:true,customValues:[0,2,4],length:5,lineStyle:{color:'#000',width:3}},
  splitLine:{lineStyle:{color:'#CCCCCC',width:3}},axisLabel:{customValues:[0,2,4],fontFamily:FONT,fontSize:25,color:'#000',margin:8},
  name:'Mutations per MB',nameLocation:'middle',nameRotate:90,nameGap:128,nameTextStyle:{fontFamily:FONT,fontSize:32,color:'#000'}},
 {type:'value',gridIndex:6,inverse:true,min:0,max:56,interval:1,axisLine:{show:false},axisTick:{show:false},axisLabel:{show:false},splitLine:{lineStyle:{color:'#E9E9E9',width:1}}},
 {type:'category',gridIndex:7,data:['Immunity'],axisLine:{show:false},axisTick:{show:false},axisLabel:{fontFamily:FONT,fontSize:40,color:'#000',margin:32}}];
const grids=[pg(116,118.5,1005,746.5),pg(1148,102.7,1996.6,746.5),
 pg(2138,87.4,2738,748,{show:true,borderColor:'#000',borderWidth:2}),pg(2883,89,3483,749.5,{show:true,borderColor:'#000',borderWidth:2}),
 pg(275.4,1383.9,506.7,2826.4),
 pg(696,992,2810.6,1339,{show:true,borderColor:'#000',borderWidth:3}),
 pg(696,1383.5,2811,2826.5),pg(696,2948,2811,3033)];

// ---------- free text and legends
const g=[];
function txt(text,x,y,size,o){g.push({type:'text',x,y:y+size*.07,silent:true,style:{text,font:(o&&o.b?'bold ':'')+size+'px '+FONT,fill:'#000',align:(o&&o.a)||'left',verticalAlign:'middle'}});}
function rect(x,y,w,h,c){g.push({type:'rect',silent:true,shape:{x,y,width:w,height:h},style:{fill:c}});}
g.push({type:'rect',silent:true,z:10,shape:{x:275.4,y:1381.8,width:231.3,height:1446.2},style:{fill:null,stroke:'#222',lineWidth:2.5}});
txt('A',28,44,64,{b:1});txt('B',1074,44,64,{b:1});txt('C',2088,41,64,{b:1});txt('D',2820,44,64,{b:1});txt('E',27,924,64,{b:1});
g.push({type:'polygon',silent:true,shape:{points:[[84,18],[94,18],[89,5]]},style:{fill:'#000'}});
txt('Colon cancer',564,880,48,{a:'center'});txt('Rectal cancer',1589,880,48,{a:'center'});txt('Colon cancer',2444,880,48,{a:'center'});txt('Rectal cancer',3183,880,48,{a:'center'});
txt('Translational Effect',3011,1108,41);
rect(3013,1150,48,48,SYN);rect(3013,1200.5,48,48,NON);
txt('Synonymous',3084.5,1173,26);txt('Non Synonymous',3084.5,1225,26);
txt('Mutation Type',3027.4,1671,40.6);
mutTypes.forEach((m,i)=>{rect(3026,1711+51.45*i,51,51.45,mutColors[i]);txt(m,3099.4,1736+51.45*i,26.4);});
txt('value',2847,2989,40);
[[2845,3026,2901],[3071,3026,3129],[3308,3025,3366]].forEach((p,i)=>{rect(p[0],p[1],51,51,immunityColors[i]);txt(immunityLabels[i],p[2],3053,18.9,{b:1});});
txt('Subtype',3168,3111,24.5,{b:1,a:'center'});

const series=[
 ...violinSeries(0,colonViolinValue,colonViolinHalf,colonBoxes,colonOutliers,colonBrackets),
 ...violinSeries(1,rectalViolinValue,rectalViolinHalf,rectalBoxes,[],rectalBrackets),
 ...tmbSeries(2,colonTmb,colonTmbBracket,-28),
 ...tmbSeries(3,rectalTmb,rectalTmbBracket,0),
 geneLineSeries(),
 {type:'bar',name:'Non Synonymous',xAxisIndex:4,yAxisIndex:4,stack:'pct',barWidth:'100%',z:2,silent:true,itemStyle:{color:NON},data:pctNonSyn},
 {type:'bar',name:'Synonymous',xAxisIndex:4,yAxisIndex:4,stack:'pct',barWidth:'100%',z:2,silent:true,itemStyle:{color:SYN},data:pctTotal.map((t,i)=>+(t-pctNonSyn[i]).toFixed(2))},
 {type:'bar',name:'Non Synonymous',xAxisIndex:5,yAxisIndex:5,stack:'tmb',barWidth:'100%',z:2,silent:true,large:false,itemStyle:{color:NON},data:tmbNonSynHundredths.map(v=>v/100)},
 {type:'bar',name:'Synonymous',xAxisIndex:5,yAxisIndex:5,stack:'tmb',barWidth:'100%',z:2,silent:true,large:false,itemStyle:{color:SYN},data:tmbTotalHundredths.map((v,i)=>(v-tmbNonSynHundredths[i])/100)},
 cellSeries(),immSeries()];
const chart=echarts.init(document.getElementById('c'),null,{renderer:'canvas',width:3500,height:3128});
chart.setOption({animation:false,backgroundColor:'#fff',textStyle:{fontFamily:FONT},grid:grids,xAxis:xAxes,yAxis:yAxes,series,graphic:{elements:g}});
</script></body></html>
